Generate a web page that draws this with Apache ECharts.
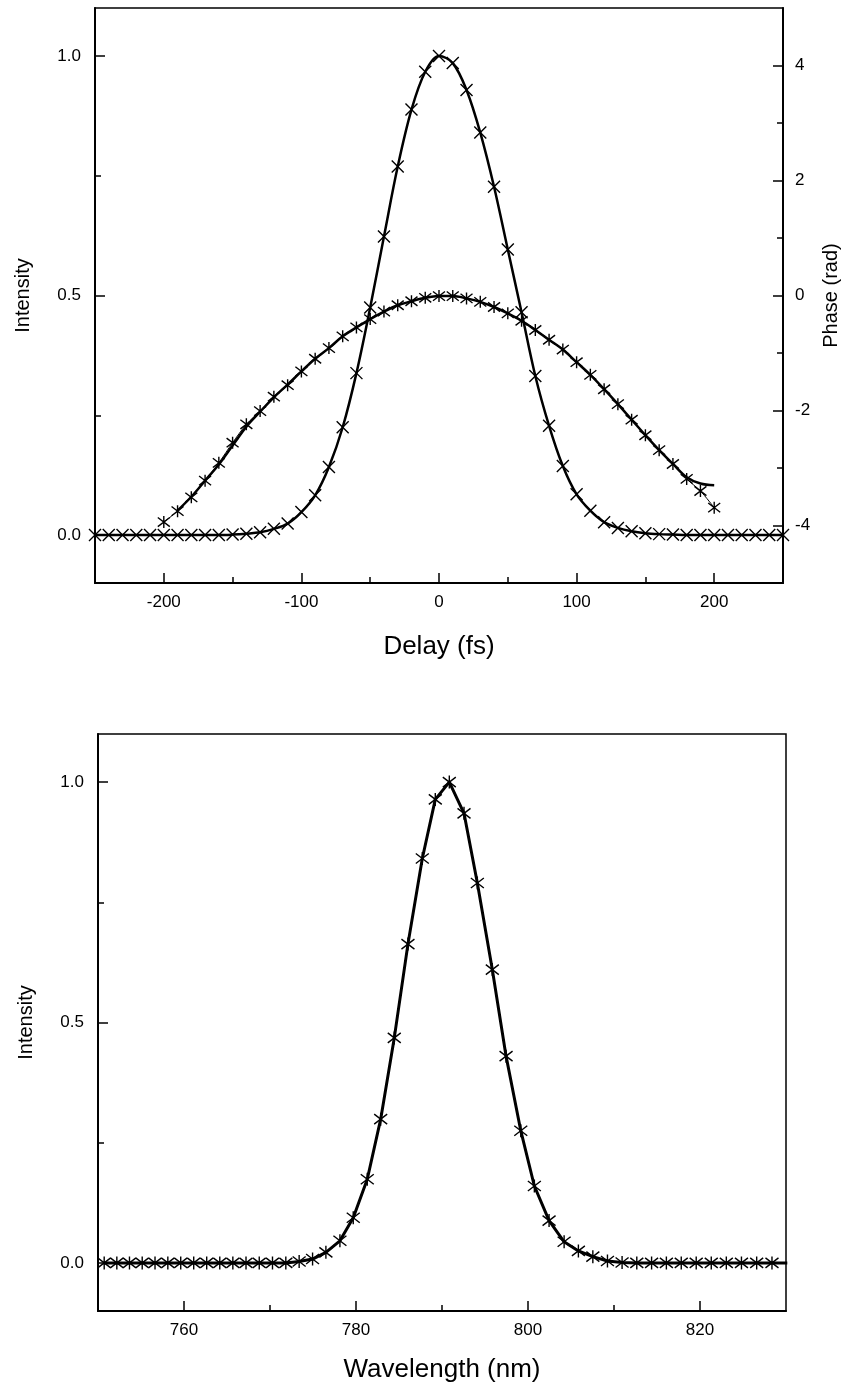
<!DOCTYPE html>
<html>
<head>
<meta charset="utf-8">
<script src="https://cdn.jsdelivr.net/npm/echarts@6/dist/echarts.min.js"></script>
<style>
  html, body { margin: 0; padding: 0; background: #fff; }
  #chart { width: 856px; height: 1389px; }
</style>
</head>
<body>
<div id="chart"></div>
<script>
// ---------- Top panel: delay trace ----------
const delayFs = [-250,-240,-230,-220,-210,-200,-190,-180,-170,-160,-150,-140,-130,-120,-110,-100,-90,-80,-70,-60,-50,-40,-30,-20,-10,0,10,20,30,40,50,60,70,80,90,100,110,120,130,140,150,160,170,180,190,200,210,220,230,240,250];
const intensity = [0,0,0,0,0,0,0,0,0,0,0.001,0.003,0.006,0.013,0.024,0.048,0.083,0.142,0.225,0.338,0.475,0.623,0.769,0.888,0.967,1.0,0.985,0.929,0.840,0.727,0.596,0.465,0.332,0.228,0.144,0.085,0.051,0.027,0.015,0.008,0.004,0.002,0.001,0,0,0,0,0,0,0,0];

const phaseDelay = [-200,-190,-180,-170,-160,-150,-140,-130,-120,-110,-100,-90,-80,-70,-60,-50,-40,-30,-20,-10,0,10,20,30,40,50,60,70,80,90,100,110,120,130,140,150,160,170,180,190,200];
const phaseData = [-3.94,-3.75,-3.51,-3.22,-2.91,-2.56,-2.24,-2.01,-1.76,-1.56,-1.32,-1.10,-0.915,-0.71,-0.555,-0.41,-0.28,-0.17,-0.10,-0.04,-0.01,-0.01,-0.05,-0.11,-0.20,-0.31,-0.44,-0.60,-0.77,-0.94,-1.16,-1.38,-1.63,-1.89,-2.16,-2.43,-2.69,-2.93,-3.19,-3.40,-3.69];

const phaseFitDelay = [-190,-180,-170,-160,-150,-140,-130,-120,-110,-100,-90,-80,-70,-60,-50,-40,-30,-20,-10,0,10,20,30,40,50,60,70,80,90,100,110,120,130,140,150,160,170,180,190,200];
const phaseFit = [-3.74,-3.50,-3.22,-2.94,-2.61,-2.28,-2.02,-1.77,-1.55,-1.32,-1.10,-0.915,-0.71,-0.555,-0.41,-0.28,-0.17,-0.10,-0.04,-0.01,-0.01,-0.05,-0.11,-0.20,-0.31,-0.44,-0.60,-0.77,-0.94,-1.16,-1.38,-1.63,-1.89,-2.16,-2.43,-2.69,-2.93,-3.16,-3.27,-3.30];

// ---------- Bottom panel: spectrum ----------
const wavelengthNm = [750.72,752.19,753.66,755.14,756.63,758.12,759.62,761.13,762.64,764.16,765.68,767.21,768.75,770.29,771.84,773.39,774.95,776.50,778.13,779.68,781.31,782.87,784.45,786.04,787.71,789.22,790.85,792.56,794.11,795.85,797.45,799.16,800.74,802.45,804.20,805.86,807.54,809.24,810.94,812.65,814.37,816.09,817.82,819.56,821.31,823.06,824.82,826.59,828.37,830.15];
const spectrum = [0,0,0,0,0,0,0,0,0,0,0,0,0,0,0,0.003,0.008,0.022,0.046,0.094,0.174,0.299,0.468,0.663,0.841,0.964,1.0,0.935,0.790,0.610,0.430,0.275,0.160,0.088,0.044,0.025,0.013,0.004,0.001,0,0,0,0,0,0,0,0,0,0,0];

// ---------- Ticks ----------
const delayMajorTicks = [-200,-100,0,100,200];
const delayMinorTicks = [-150,-50,50,150];
const intensityMajorTicks = [0,0.5,1.0];
const intensityMinorTicks = [0.25,0.75];
const phaseMajorTicks = [-4,-2,0,2,4];
const phaseMinorTicks = [-3,-1,1,3];
const wlMajorTicks = [760,780,800,820];
const wlMinorTicks = [770,790,810];

const FONT = '"Liberation Sans", Arial, Helvetica, sans-serif';
const TICK_FS = 17;
const XNAME_FS = 26;
const YNAME_FS = 20;
const zip = (a, b) => a.map((v, i) => [v, b[i]]);

const xPath = 'path://M0,0L10,10M0,10L10,0';
const starPath = 'path://M0,0L10,10M0,10L10,0M5,-1.5L5,11.5';

function majorAxis(base, ticks, labelFmt, margin, nameFs) {
  return Object.assign({
    type: 'value',
    axisLine: { show: true, onZero: false, lineStyle: { color: '#000', width: 2 } },
    axisTick: { show: true, inside: true, length: 10, customValues: ticks, lineStyle: { color: '#000', width: 1.5 } },
    axisLabel: { show: true, customValues: ticks, formatter: labelFmt, color: '#000', fontSize: TICK_FS, fontFamily: FONT, margin: margin },
    splitLine: { show: false },
    nameTextStyle: { color: '#000', fontSize: nameFs, fontFamily: FONT }
  }, base);
}
function minorAxis(base, ticks) {
  return Object.assign({
    type: 'value',
    axisLine: { show: false, onZero: false },
    axisTick: { show: true, inside: true, length: 6, customValues: ticks, lineStyle: { color: '#000', width: 1.5 } },
    axisLabel: { show: false },
    splitLine: { show: false }
  }, base);
}
const fmtInt = v => String(v);
const fmtOne = v => Number(v).toFixed(1);

const chart = echarts.init(document.getElementById('chart'), null, { renderer: 'canvas' });
chart.setOption({
  animation: false,
  backgroundColor: '#fff',
  grid: [
    { left: 95, top: 8, width: 688, height: 575, show: true, borderColor: '#000', borderWidth: 1.5, outerBoundsMode: 'none', containLabel: false },
    { left: 98, top: 734, width: 688, height: 577, show: true, borderColor: '#000', borderWidth: 1.5, outerBoundsMode: 'none', containLabel: false }
  ],
  xAxis: [
    majorAxis({ gridIndex: 0, min: -250, max: 250, position: 'bottom', name: 'Delay (fs)', nameLocation: 'middle', nameGap: 51 }, delayMajorTicks, fmtInt, 11, XNAME_FS),
    minorAxis({ gridIndex: 0, min: -250, max: 250, position: 'bottom' }, delayMinorTicks),
    majorAxis({ gridIndex: 1, min: 750, max: 830, position: 'bottom', name: 'Wavelength (nm)', nameLocation: 'middle', nameGap: 46 }, wlMajorTicks, fmtInt, 11, XNAME_FS),
    minorAxis({ gridIndex: 1, min: 750, max: 830, position: 'bottom' }, wlMinorTicks)
  ],
  yAxis: [
    majorAxis({ gridIndex: 0, min: -0.1, max: 1.1, position: 'left', name: 'Intensity', nameLocation: 'middle', nameGap: 62 }, intensityMajorTicks, fmtOne, 14, YNAME_FS),
    minorAxis({ gridIndex: 0, min: -0.1, max: 1.1, position: 'left' }, intensityMinorTicks),
    majorAxis({ gridIndex: 0, min: -5, max: 5, position: 'right', name: 'Phase (rad)', nameLocation: 'middle', nameGap: 38 }, phaseMajorTicks, fmtInt, 12, YNAME_FS),
    minorAxis({ gridIndex: 0, min: -5, max: 5, position: 'right' }, phaseMinorTicks),
    majorAxis({ gridIndex: 1, min: -0.1, max: 1.1, position: 'left', name: 'Intensity', nameLocation: 'middle', nameGap: 62 }, intensityMajorTicks, fmtOne, 14, YNAME_FS),
    minorAxis({ gridIndex: 1, min: -0.1, max: 1.1, position: 'left' }, intensityMinorTicks)
  ],
  series: [
    {
      name: 'Intensity', type: 'line', xAxisIndex: 0, yAxisIndex: 0,
      data: zip(delayFs, intensity), smooth: 0.35,
      lineStyle: { color: '#000', width: 2.5 },
      symbol: xPath, symbolSize: 12,
      itemStyle: { color: '#000', borderColor: '#000', borderWidth: 1.4 },
      z: 3
    },
    {
      name: 'Phase data', type: 'line', xAxisIndex: 0, yAxisIndex: 2,
      data: zip(phaseDelay, phaseData), smooth: 0.3,
      lineStyle: { color: '#000', width: 1 },
      symbol: starPath, symbolSize: 12,
      itemStyle: { color: '#000', borderColor: '#000', borderWidth: 1.4 },
      z: 4
    },
    {
      name: 'Phase fit', type: 'line', xAxisIndex: 0, yAxisIndex: 2,
      data: zip(phaseFitDelay, phaseFit), smooth: 0.35,
      lineStyle: { color: '#000', width: 2.5 },
      symbol: 'none', z: 3
    },
    {
      name: 'Spectrum', type: 'line', xAxisIndex: 2, yAxisIndex: 4,
      data: zip(wavelengthNm, spectrum), smooth: false,
      lineStyle: { color: '#000', width: 3 },
      symbol: starPath, symbolSize: 13,
      itemStyle: { color: '#000', borderColor: '#000', borderWidth: 1.4 },
      z: 3
    }
  ]
});
</script>
</body>
</html>
